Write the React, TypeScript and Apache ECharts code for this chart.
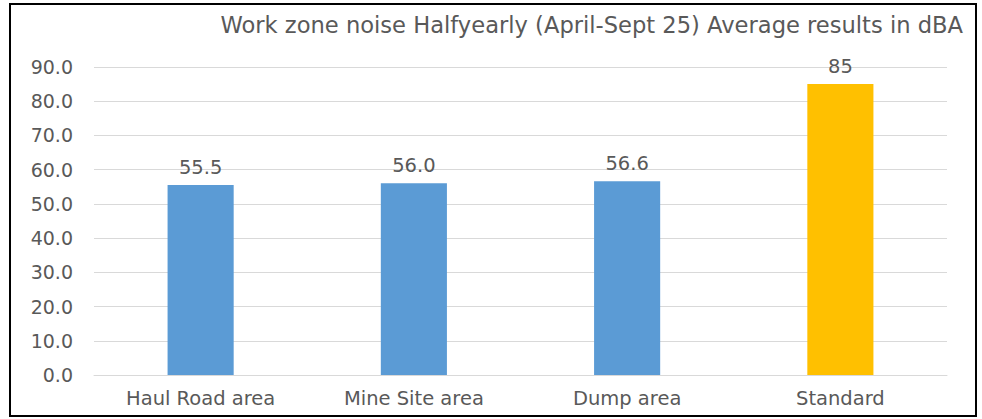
import React, { useEffect, useRef } from "react";
import * as echarts from "echarts";

const categories = ["Haul Road area", "Mine Site area", "Dump area", "Standard"];
const values = [55.5, 56.0, 56.6, 85];
const labelTexts = ["55.5", "56.0", "56.6", "85"];
const barColors = ["#5B9BD5", "#5B9BD5", "#5B9BD5", "#FFC000"];
const titleText = "Work zone noise Halfyearly (April-Sept 25) Average results in dBA";

export default function App() {
  const ref = useRef<HTMLDivElement>(null);
  useEffect(() => {
    if (!ref.current) return;
    const chart = echarts.init(ref.current, null, { renderer: "svg" });
    const font = "'DejaVu Sans', sans-serif";
    chart.setOption({
      animation: false,
      backgroundColor: "#ffffff",
      textStyle: { fontFamily: font },
      title: {
        text: titleText,
        right: 14,
        top: 8,
        textStyle: { color: "#595959", fontSize: 22.6, fontWeight: "normal", fontFamily: font },
      },
      graphic: [
        {
          type: "rect",
          shape: { x: 10, y: 4, width: 966, height: 412 },
          style: { fill: "none", stroke: "#000000", lineWidth: 2 },
          silent: true,
        },
      ],
      grid: { left: 94, right: 35, top: 67, bottom: 44, containLabel: false },
      xAxis: {
        type: "category",
        data: categories,
        axisLine: { show: true, lineStyle: { color: "#d9d9d9", width: 1 } },
        axisTick: { show: false },
        axisLabel: { color: "#595959", fontSize: 19.5, margin: 13, fontFamily: font },
      },
      yAxis: {
        type: "value",
        min: 0,
        max: 90,
        interval: 10,
        axisLine: { show: false },
        axisTick: { show: false },
        axisLabel: {
          color: "#595959",
          fontSize: 19,
          margin: 21,
          fontFamily: font,
          formatter: (v: number) => v.toFixed(1),
        },
        splitLine: { lineStyle: { color: "#d9d9d9", width: 1 } },
      },
      series: [
        {
          type: "bar",
          barWidth: "31%",
          data: values.map((v, i) => ({ value: v, itemStyle: { color: barColors[i] } })),
          label: {
            show: true,
            position: "top",
            distance: 8,
            color: "#595959",
            fontSize: 19.5,
            fontFamily: font,
            formatter: (p: any) => labelTexts[p.dataIndex],
          },
        },
      ],
    });
    return () => chart.dispose();
  }, []);
  return (
    <div
      ref={ref}
      style={{ position: "absolute", left: 0, top: 0, width: 982, height: 419 }}
    />
  );
}
